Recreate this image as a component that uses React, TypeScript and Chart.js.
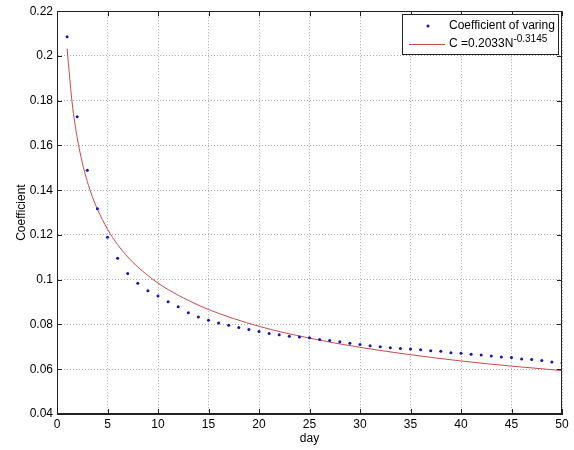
import React, { useEffect, useRef } from "react";
import { Chart, registerables } from "chart.js";

Chart.register(...registerables);

const days = [
  1, 2, 3, 4, 5, 6, 7, 8, 9, 10, 11, 12, 13, 14, 15, 16, 17, 18, 19, 20, 21, 22, 23, 24, 25,
  26, 27, 28, 29, 30, 31, 32, 33, 34, 35, 36, 37, 38, 39, 40, 41, 42, 43, 44, 45, 46, 47, 48, 49, 50,
];
const coefficient = [
  0.2086, 0.1728, 0.1489, 0.1317, 0.119, 0.1096, 0.1028, 0.0984, 0.0951, 0.0927,
  0.0902, 0.0879, 0.0853, 0.0834, 0.0819, 0.0807, 0.0797, 0.0787, 0.0778, 0.0769,
  0.076, 0.0754, 0.0748, 0.0744, 0.0741, 0.0733, 0.0728, 0.0723, 0.0716, 0.0711,
  0.0705, 0.0701, 0.0696, 0.0693, 0.069, 0.0687, 0.0683, 0.068, 0.0674, 0.0671,
  0.0667, 0.0664, 0.0659, 0.0655, 0.0652, 0.0646, 0.0643, 0.0639, 0.0632, 0.0628,
];
const fitX = [1, 1.5, 2, 2.5, 3, 3.5, 4, 5, 6, 7, 8, 10, 12, 15, 20, 25, 30, 35, 40, 45, 50];
const fitY = [
  0.2033, 0.179, 0.1635, 0.1524, 0.1439, 0.1371, 0.1315, 0.1226, 0.1157, 0.1102, 0.1057,
  0.0985, 0.0931, 0.0867, 0.0792, 0.0739, 0.0698, 0.0665, 0.0637, 0.0614, 0.0594,
];
const xTicks = [0, 5, 10, 15, 20, 25, 30, 35, 40, 45, 50];
const yTicks = [0.04, 0.06, 0.08, 0.1, 0.12, 0.14, 0.16, 0.18, 0.2, 0.22];
const legendLabels = ["Coefficient of varing", "C =0.2033N", "-0.3145"];
const xTitle = "day";
const yTitle = "Coefficient";

const FONT = "'Liberation Sans', Arial, sans-serif";
const DOT_COLOR = "#1414b4";
const LINE_COLOR = "#c84a4a";

const framePlugin = {
  id: "matlabFrame",
  afterDraw(chart: any) {
    const { ctx, chartArea: a, scales } = chart;
    const xs = scales.x;
    const ys = scales.y;
    ctx.save();
    ctx.strokeStyle = "#222";
    ctx.lineWidth = 1;
    ctx.setLineDash([]);
    ctx.strokeRect(Math.round(a.left) + 0.5, Math.round(a.top) + 0.5, Math.round(a.right - a.left) - 1, Math.round(a.bottom - a.top) - 1);
    const tl = 5;
    ctx.beginPath();
    xTicks.forEach((v) => {
      const px = Math.round(xs.getPixelForValue(v)) + 0.5;
      ctx.moveTo(px, a.bottom);
      ctx.lineTo(px, a.bottom - tl);
      ctx.moveTo(px, a.top);
      ctx.lineTo(px, a.top + tl);
    });
    yTicks.forEach((v) => {
      const py = Math.round(ys.getPixelForValue(v)) + 0.5;
      ctx.moveTo(a.left, py);
      ctx.lineTo(a.left + tl, py);
      ctx.moveTo(a.right, py);
      ctx.lineTo(a.right - tl, py);
    });
    ctx.stroke();

    // legend
    const L = 402.5, T = 14.5, R = 558.5, B = 54.5;
    ctx.fillStyle = "#fff";
    ctx.fillRect(L, T, R - L, B - T);
    ctx.strokeStyle = "#222";
    ctx.strokeRect(L, T, R - L, B - T);
    const r1 = 26, r2 = 44;
    ctx.fillStyle = DOT_COLOR;
    ctx.beginPath();
    ctx.arc(428, r1, 1.5, 0, Math.PI * 2);
    ctx.fill();
    ctx.strokeStyle = LINE_COLOR;
    ctx.beginPath();
    ctx.moveTo(409, r2 + 0.5);
    ctx.lineTo(445, r2 + 0.5);
    ctx.stroke();
    ctx.fillStyle = "#000";
    ctx.textBaseline = "middle";
    ctx.textAlign = "left";
    ctx.font = `12px ${FONT}`;
    ctx.fillText(legendLabels[0], 449, r1);
    ctx.fillText(legendLabels[1], 449, r2);
    const w = ctx.measureText(legendLabels[1]).width;
    ctx.font = `10px ${FONT}`;
    ctx.fillText(legendLabels[2], 449 + w, r2 - 5);
    ctx.restore();
  },
};

export default function App() {
  const ref = useRef<HTMLCanvasElement>(null);
  useEffect(() => {
    if (!ref.current) return;
    const chart = new Chart(ref.current, {
      type: "scatter",
      data: {
        datasets: [
          {
            label: legendLabels[0],
            data: days.map((d, i) => ({ x: d, y: coefficient[i] })),
            backgroundColor: DOT_COLOR,
            borderColor: DOT_COLOR,
            pointRadius: 1.5,
            pointBorderWidth: 0,
            showLine: false,
          },
          {
            label: legendLabels[1] + legendLabels[2],
            data: fitX.map((x, i) => ({ x, y: fitY[i] })),
            borderColor: LINE_COLOR,
            backgroundColor: LINE_COLOR,
            borderWidth: 1,
            pointRadius: 0,
            showLine: true,
            cubicInterpolationMode: "monotone",
          } as any,
        ],
      },
      options: {
        responsive: false,
        animation: false,
        layout: { padding: { left: 0, top: 9, right: 12, bottom: 0 } },
        plugins: { legend: { display: false }, tooltip: { enabled: false } },
        scales: {
          x: {
            type: "linear",
            min: 0,
            max: 50,
            afterBuildTicks: (s: any) => {
              s.ticks = xTicks.map((v) => ({ value: v }));
            },
            afterFit: (s: any) => {
              s.height = 36;
            },
            ticks: {
              color: "#000",
              font: { family: FONT, size: 12 },
              padding: 3,
              maxRotation: 0,
              autoSkip: false,
            },
            grid: { color: "#a8a8a8", drawTicks: false, lineWidth: 1 },
            border: { display: true, color: "#222", dash: [1, 2] },
            title: {
              display: true,
              text: xTitle,
              color: "#000",
              font: { family: FONT, size: 12 },
              padding: { top: 0, bottom: 4 },
            },
          },
          y: {
            type: "linear",
            min: 0.04,
            max: 0.22,
            afterBuildTicks: (s: any) => {
              s.ticks = yTicks.map((v) => ({ value: v }));
            },
            afterFit: (s: any) => {
              s.width = 57;
            },
            ticks: {
              color: "#000",
              font: { family: FONT, size: 12 },
              padding: 4,
              autoSkip: false,
              callback: (v: any) => String(Number(Number(v).toFixed(2))),
            },
            grid: { color: "#a8a8a8", drawTicks: false, lineWidth: 1 },
            border: { display: true, color: "#222", dash: [1, 2] },
            title: {
              display: true,
              text: yTitle,
              color: "#000",
              font: { family: FONT, size: 12 },
              padding: { top: 14, bottom: 0 },
            },
          },
        },
      },
      plugins: [framePlugin],
    });
    return () => chart.destroy();
  }, []);
  return (
    <div style={{ position: "absolute", left: 0, top: 0, width: 574, height: 450, background: "#fff" }}>
      <canvas ref={ref} width={574} height={450} style={{ display: "block" }} />
    </div>
  );
}
